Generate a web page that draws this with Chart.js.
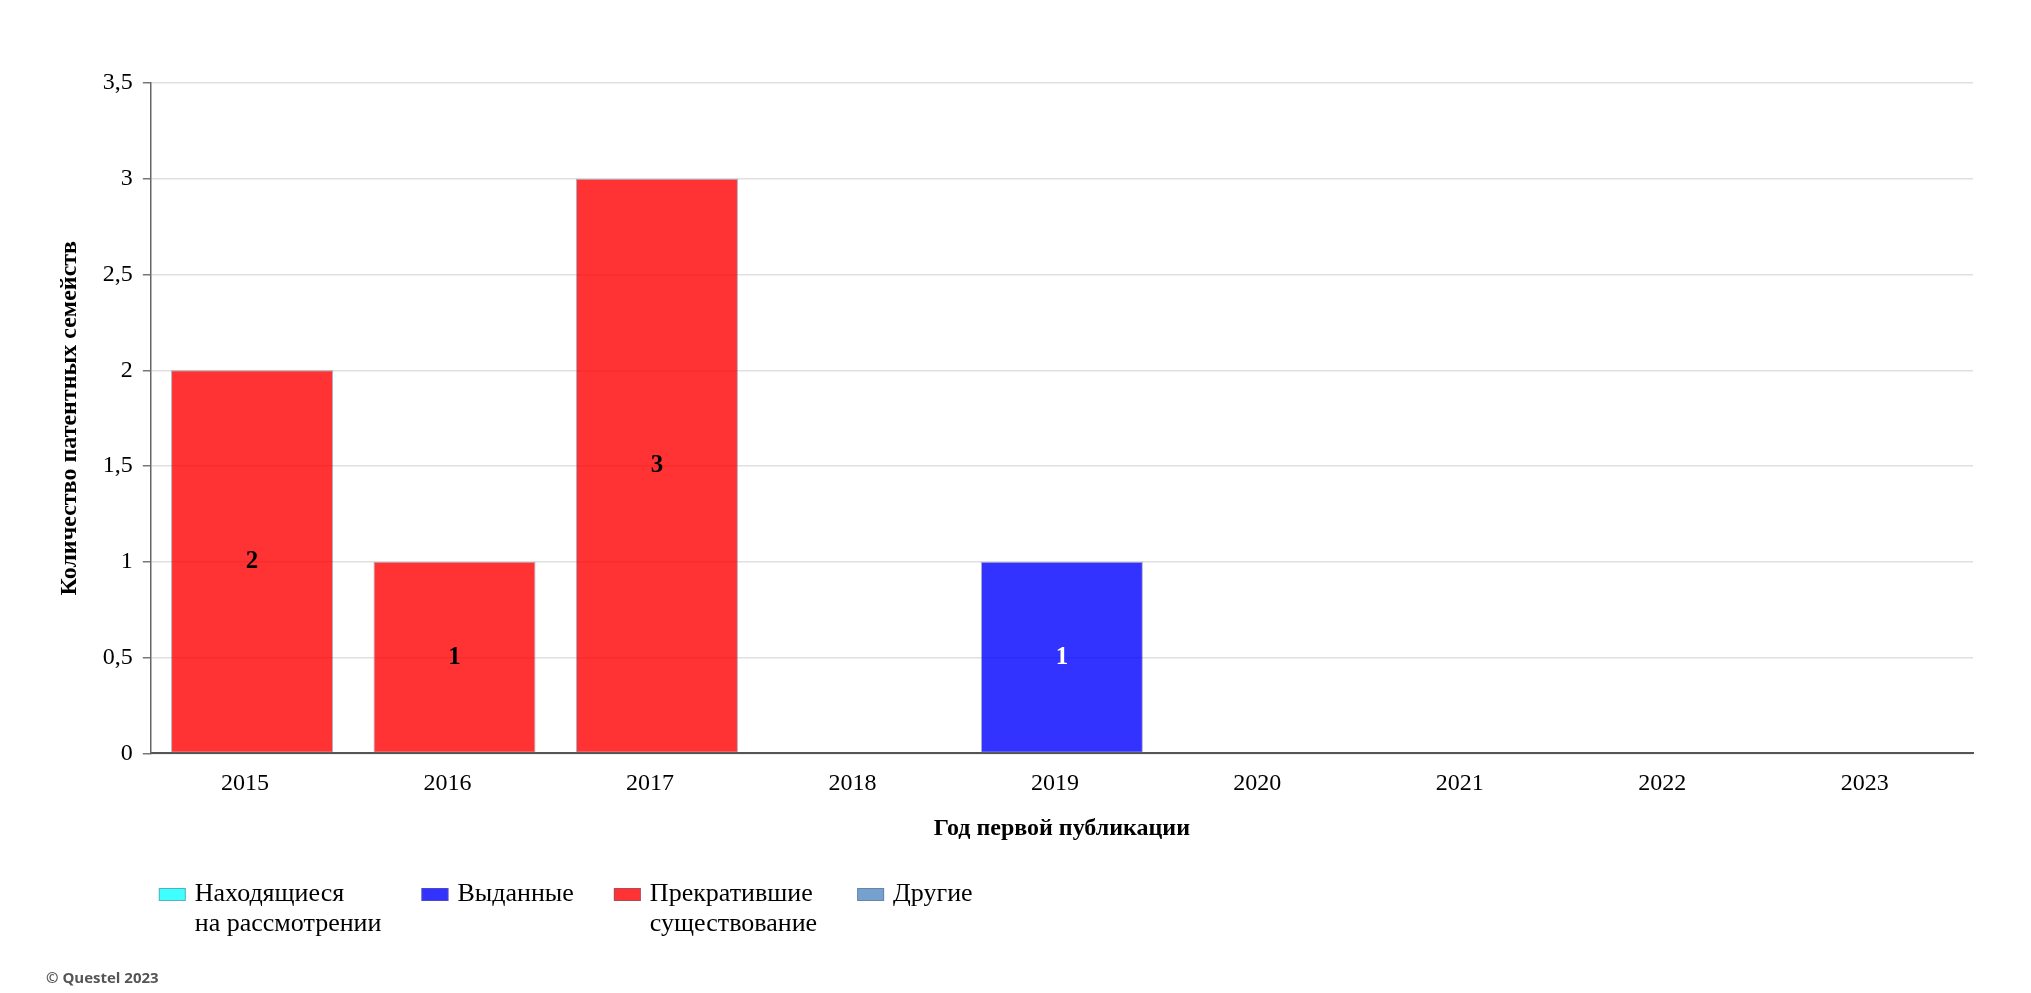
<!DOCTYPE html>
<html lang="ru">
<head>
<meta charset="utf-8">
<title>Патентные семейства по годам</title>
<script src="https://cdn.jsdelivr.net/npm/chart.js@4.4.0/dist/chart.umd.min.js"></script>
<style>
  html, body { margin: 0; padding: 0; background: #fff; }
  #wrap { width: 2031px; height: 993px; position: relative; }
</style>
</head>
<body>
<div id="wrap"><canvas id="grafico"></canvas></div>
<script>
// данные графика
const years = ['2015', '2016', '2017', '2018', '2019', '2020', '2021', '2022', '2023'];
const seriesNames = ['Находящиеся\nна рассмотрении', 'Выданные', 'Прекратившие\nсуществование', 'Другие'];
const pending = [0, 0, 0, 0, 0, 0, 0, 0, 0];
const granted = [0, 0, 0, 0, 1, 0, 0, 0, 0];
const lapsed  = [2, 1, 3, 0, 0, 0, 0, 0, 0];
const others  = [0, 0, 0, 0, 0, 0, 0, 0, 0];
const yMax = 3.5;
const yStep = 0.5;

// стили серий
const fillColors  = ['rgba(0,255,255,0.75)', 'rgba(0,0,255,0.8)', 'rgba(255,0,0,0.8)', 'rgba(70,130,190,0.75)'];
const labelColors = ['#000', '#fff', '#000', '#000'];
const edgeColor = 'rgba(100,100,130,0.5)';

const serif = "'Liberation Serif', 'Times New Roman', serif";
Chart.defaults.font.family = serif;
Chart.defaults.color = '#000';

// подписи значений в центре столбцов
const barLabels = {
  id: 'barLabels',
  afterDatasetsDraw(chart) {
    const ctx = chart.ctx;
    chart.data.datasets.forEach((ds, i) => {
      if (!chart.isDatasetVisible(i)) return;
      chart.getDatasetMeta(i).data.forEach((bar, j) => {
        const v = ds.data[j];
        if (!v) return;
        const p = bar.getProps(['x', 'y', 'base'], true);
        ctx.save();
        ctx.font = 'bold 25px ' + serif;
        ctx.fillStyle = labelColors[i];
        ctx.textAlign = 'center';
        ctx.textBaseline = 'middle';
        ctx.fillText(String(v), p.x, (p.y + p.base) / 2);
        ctx.restore();
      });
    });
  }
};

// легенда с переносом строк (рисуется под осью X)
const multiLegend = {
  id: 'multiLegend',
  afterDraw(chart) {
    const ctx = chart.ctx;
    const lineH = 30;
    let x = chart.chartArea.left + 8;
    const y0 = chart.scales.x.bottom + 47;
    ctx.save();
    ctx.font = '26px ' + serif;
    ctx.textBaseline = 'middle';
    ctx.textAlign = 'left';
    chart.data.datasets.forEach((ds, i) => {
      const lines = ds.label.split('\n');
      ctx.fillStyle = fillColors[i];
      ctx.fillRect(x, y0 - 6, 27, 13);
      ctx.strokeStyle = edgeColor;
      ctx.lineWidth = 1;
      ctx.strokeRect(x + 0.5, y0 - 5.5, 26, 12);
      ctx.fillStyle = '#000';
      let w = 0;
      lines.forEach((ln, k) => {
        ctx.fillText(ln, x + 36, y0 + k * lineH);
        w = Math.max(w, ctx.measureText(ln).width);
      });
      x += 36 + w + 40;
    });
    ctx.restore();
  }
};

const allSeries = [pending, granted, lapsed, others];

new Chart(document.getElementById('grafico'), {
  type: 'bar',
  data: {
    labels: years,
    datasets: allSeries.map((vals, i) => ({
      label: seriesNames[i],
      data: vals,
      backgroundColor: fillColors[i],
      borderColor: edgeColor,
      borderWidth: 1,
      borderSkipped: false,
      barPercentage: 1,
      categoryPercentage: 0.8
    }))
  },
  options: {
    responsive: true,
    maintainAspectRatio: false,
    animation: false,
    layout: { padding: { left: 46, right: 58, top: 83, bottom: 5 } },
    plugins: {
      tooltip: { enabled: false },
      legend: { display: false },
      subtitle: {
        display: true,
        text: '© Questel 2023',
        position: 'bottom',
        align: 'start',
        color: '#555',
        font: { size: 15, weight: 'bold', family: "'Open Sans', 'DejaVu Sans', sans-serif" },
        padding: { top: 123, bottom: 0 }
      }
    },
    scales: {
      x: {
        stacked: true,
        grid: { display: false, drawTicks: false },
        border: { display: true, color: '#555', width: 2 },
        ticks: { padding: 16, labelOffset: -7, font: { size: 24 }, color: '#000' },
        title: {
          display: true,
          text: 'Год первой публикации',
          font: { size: 24, weight: 'bold' },
          color: '#000',
          padding: { top: 0, bottom: 4 }
        }
      },
      y: {
        stacked: true,
        min: 0,
        max: yMax,
        grid: { color: '#e0e0e0', lineWidth: 1.5, tickLength: 8, tickColor: '#777' },
        border: { display: true, color: '#666', width: 1.5 },
        ticks: {
          stepSize: yStep,
          padding: 10,
          font: { size: 24 },
          color: '#000',
          callback: v => String(v).replace('.', ',')
        },
        title: {
          display: true,
          text: 'Количество патентных семейств',
          font: { size: 24, weight: 'bold' },
          color: '#000',
          padding: { top: 9, bottom: 9 }
        }
      }
    }
  },
  plugins: [barLabels, multiLegend]
});
</script>
</body>
</html>
